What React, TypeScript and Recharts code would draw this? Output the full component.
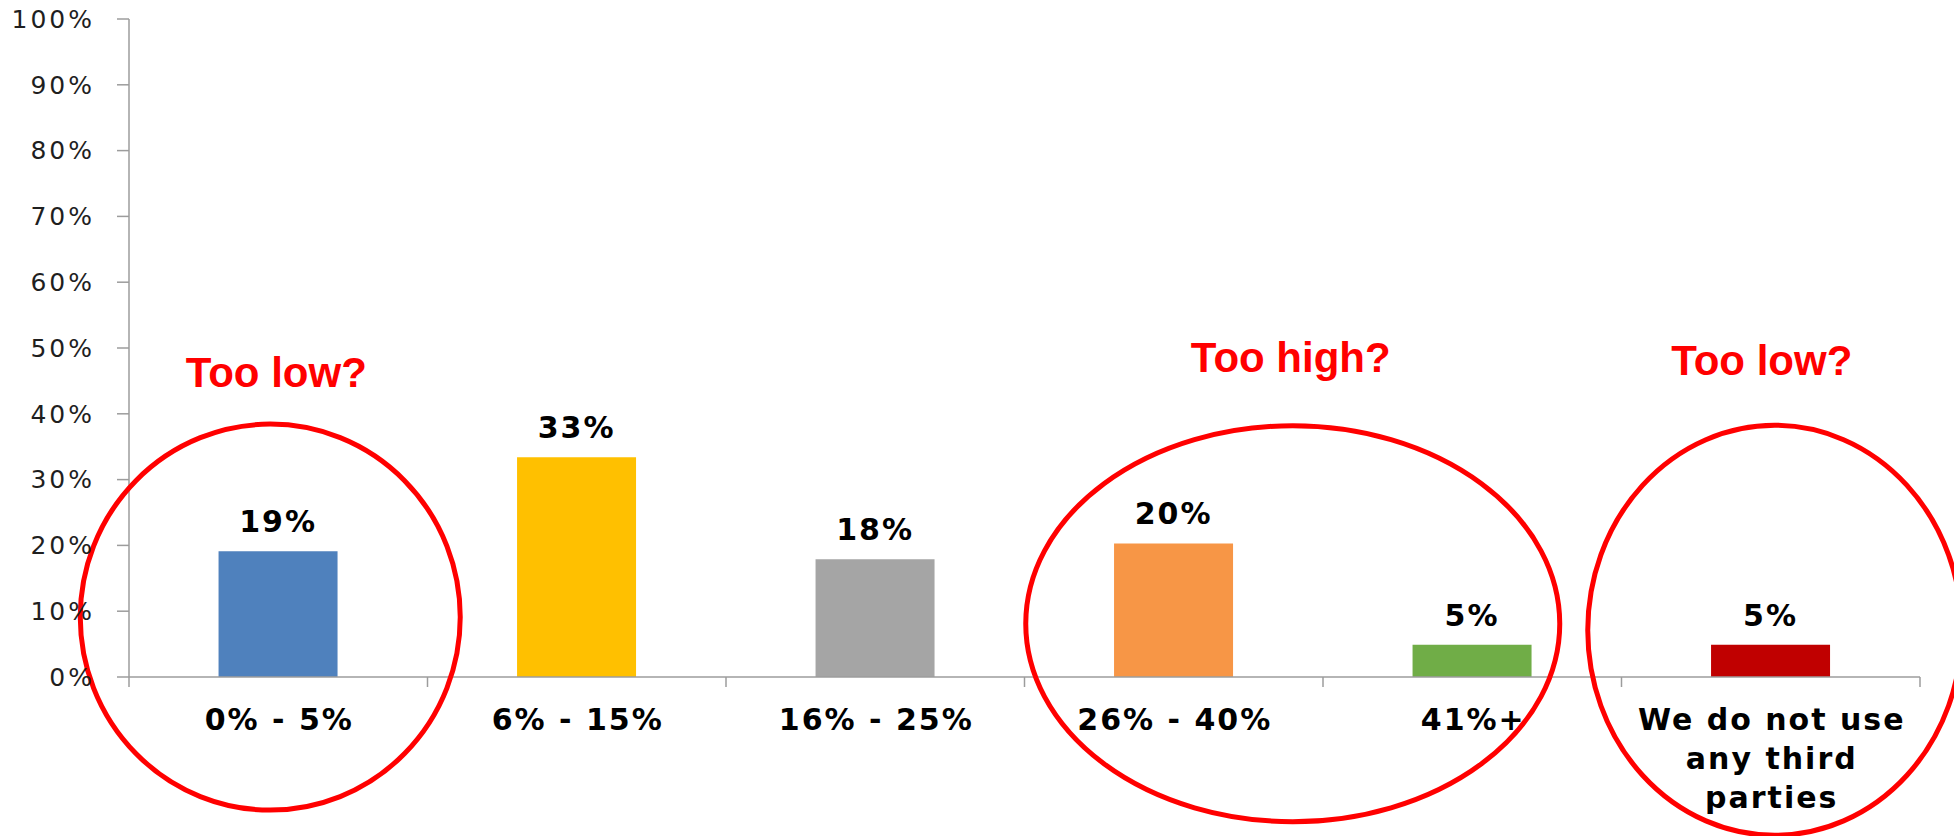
import React from 'react';
import { BarChart, Bar, XAxis, YAxis, Cell, LabelList, ReferenceDot } from 'recharts';

const categories = ['0% - 5%', '6% - 15%', '16% - 25%', '26% - 40%', '41%+', 'We do not use any third parties'];
const shares = [19.1, 33.4, 17.9, 20.3, 4.9, 4.9];
const barColors = ['#4F81BD', '#FFC000', '#A5A5A5', '#F79646', '#70AD47', '#C00000'];
const yTicks = [0, 10, 20, 30, 40, 50, 60, 70, 80, 90, 100];

// red callouts drawn over the chart, anchored on a category through the axes
const callouts = [
  { text: 'Too low?', category: '0% - 5%', value: 9.1, dx: -8, rx: 190, ry: 193, tx: 6, ty: -230 },
  { text: 'Too high?', category: '26% - 40%', value: 8.1, dx: 119, rx: 267, ry: 198, tx: -2, ty: -252 },
  { text: 'Too low?', category: 'We do not use any third parties', value: 7.1, dx: 4, rx: 187, ry: 205, tx: -13, ty: -255 },
];

const data = categories.map((name, i) => ({ name, value: shares[i] }));

const AXIS_GREY = '#9C9C9C';
const FONT = "'DejaVu Sans', Verdana, sans-serif";

const wrapLabel = (label: string, max = 13) => {
  const words = label.split(' ');
  const lines: string[] = [];
  let cur = '';
  words.forEach((w) => {
    const next = cur ? `${cur} ${w}` : w;
    if (next.length > max && cur) {
      lines.push(cur);
      cur = w;
    } else {
      cur = next;
    }
  });
  if (cur) lines.push(cur);
  return lines;
};

const CategoryTick = (props: any) => {
  const { x, y, payload, index, visibleTicksCount } = props;
  const half = payload && payload.offset ? payload.offset : 149.25;
  const lines = wrapLabel(String(payload.value));
  return (
    <g>
      <line x1={x - half} x2={x - half} y1={y} y2={y + 10} stroke={AXIS_GREY} strokeWidth={1.5} />
      {index === visibleTicksCount - 1 && (
        <line x1={x + half} x2={x + half} y1={y} y2={y + 10} stroke={AXIS_GREY} strokeWidth={1.5} />
      )}
      <text
        x={x + 1}
        y={y + 53}
        textAnchor="middle"
        fontFamily={FONT}
        fontWeight="bold"
        fontSize={30}
        letterSpacing={2}
        fill="#000"
      >
        {lines.map((l, i) => (
          <tspan key={i} x={x + 1} dy={i === 0 ? 0 : 39}>{l}</tspan>
        ))}
      </text>
    </g>
  );
};

const calloutShape = (c: typeof callouts[number]) => (props: any) => {
  const { cx, cy } = props;
  const ex = cx + c.dx;
  return (
    <g>
      <ellipse cx={ex} cy={cy} rx={c.rx} ry={c.ry} fill="none" stroke="#FF0000" strokeWidth={5} />
      <text
        x={ex + c.tx}
        y={cy + c.ty}
        textAnchor="middle"
        fontFamily="'Liberation Sans', Arial, sans-serif"
        fontWeight="bold"
        fontSize={42}
        fill="#FF0000"
      >
        {c.text}
      </text>
    </g>
  );
};

export default function App() {
  return (
    <div style={{ position: 'absolute', left: 0, top: 0, width: 1954, height: 836, background: '#fff' }}>
      <BarChart width={1954} height={836} data={data} margin={{ top: 19, right: 34, bottom: 29, left: 0 }} barCategoryGap="30%">
        <XAxis
          dataKey="name"
          height={130}
          interval={0}
          tickLine={false}
          tickSize={0}
          tickMargin={0}
          axisLine={{ stroke: AXIS_GREY, strokeWidth: 1.5 }}
          tick={<CategoryTick />}
        />
        <YAxis
          width={129}
          domain={[0, 100]}
          ticks={yTicks}
          interval={0}
          tickSize={12}
          tickMargin={22}
          tickFormatter={(v: number) => `${v}%`}
          axisLine={{ stroke: AXIS_GREY, strokeWidth: 1.5 }}
          tickLine={{ stroke: AXIS_GREY, strokeWidth: 1.5 }}
          tick={{ fontFamily: FONT, fontSize: 25, fill: '#1F1F1F', letterSpacing: 3 }}
        />
        <Bar dataKey="value" isAnimationActive={false}>
          {data.map((d, i) => (
            <Cell key={d.name} fill={barColors[i]} />
          ))}
          <LabelList
            dataKey="value"
            position="top"
            offset={19}
            formatter={(v: any) => `${Math.round(Number(v))}%`}
            style={{ fontFamily: FONT, fontWeight: 'bold', fontSize: 30, fill: '#000', letterSpacing: 2 }}
          />
        </Bar>
        {callouts.map((c, i) => (
          <ReferenceDot key={i} x={c.category} y={c.value} r={1} shape={calloutShape(c)} />
        ))}
      </BarChart>
    </div>
  );
}
